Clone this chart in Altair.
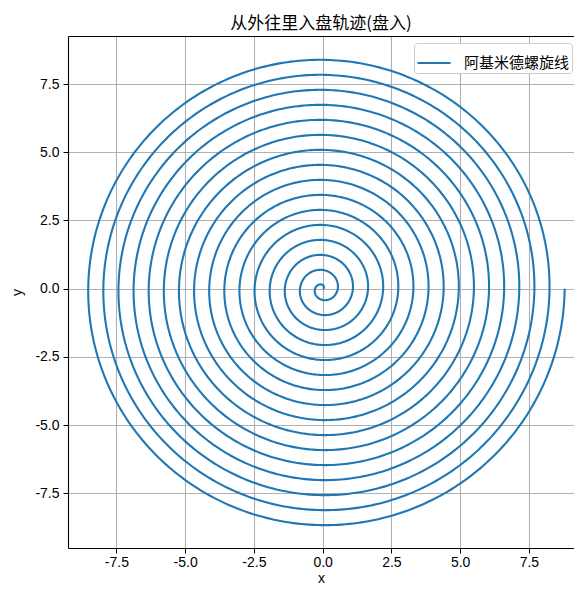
import numpy as np
import pandas as pd
import altair as alt

# ---- values ----
series_name = ["阿基米德螺旋线"]
outer_radius = [8.8]        # radius where the curve enters (on the +x axis)
turn_count = [16]           # full turns until the centre
x_ticks = [-7.5, -5.0, -2.5, 0.0, 2.5, 5.0, 7.5]
y_ticks = [-7.5, -5.0, -2.5, 0.0, 2.5, 5.0, 7.5]
x_domain = [-9.26, 9.14]
y_domain = [-9.5, 9.26]
title_text = ["从外往里入盘轨迹(盘入)"]

# Archimedean spiral, travelled clockwise from the outside to the centre
theta = np.linspace(0.0, 2 * np.pi * turn_count[0], 6000)
r = outer_radius[0] * (1.0 - theta / theta[-1])
df = pd.DataFrame({
    "i": np.arange(theta.size),
    "x": r * np.cos(theta),
    "y": -r * np.sin(theta),
    "series": series_name[0],
})

LAT = "Liberation Sans"
CJK = "Noto Sans CJK SC"
LBL = "datum.value < 0 ? '-' + format(abs(datum.value), '.1f') : format(datum.value, '.1f')"

xs = alt.Scale(domain=x_domain, nice=False, zero=False)
ys = alt.Scale(domain=y_domain, nice=False, zero=False)

line = alt.Chart(df).mark_line(strokeWidth=2.1).encode(
    x=alt.X("x:Q", scale=xs, axis=alt.Axis(values=x_ticks, labelExpr=LBL, title="x",
                                           titleBaseline="alphabetic", titleY=34,
                                           labelPadding=2)),
    y=alt.Y("y:Q", scale=ys, axis=alt.Axis(values=y_ticks, labelExpr=LBL, title="y",
                                           titlePadding=10)),
    color=alt.Color("series:N",
                    scale=alt.Scale(domain=series_name, range=["#1f77b4"]),
                    legend=alt.Legend(title=None, orient="none", legendX=346, legendY=7,
                                      symbolType="stroke", symbolSize=1089,
                                      symbolStrokeWidth=2.1, labelFont=CJK,
                                      labelFontSize=15, labelColor="#000",
                                      labelOffset=12, padding=2, fillColor="white",
                                      strokeColor="#cccccc", cornerRadius=3)),
    order="i:Q",
)

top_spine = alt.Chart(df).mark_point(opacity=0).encode(
    x=alt.X("x:Q", scale=xs, axis=alt.Axis(orient="top", labels=False, ticks=False,
                                           grid=False, title=None, domain=True)),
    y=alt.Y("y:Q", scale=ys, axis=None),
)

chart = alt.layer(line, top_spine).resolve_axis(
    x="independent", y="independent"
).properties(
    width=506,
    height=512,
    title=alt.TitleParams(text=title_text[0], font=CJK, fontSize=17, fontWeight="normal",
                          color="#000", anchor="middle", offset=3),
    autosize=alt.AutoSizeParams(type="none"),
    padding={"left": 60, "top": 28, "right": 0, "bottom": 38},
).configure_view(stroke=None).configure_axis(
    labelFont=LAT, labelFontSize=14, labelColor="#000",
    titleFont=LAT, titleFontSize=14, titleColor="#000", titleFontWeight="normal",
    domainColor="#000", domainWidth=1.1, tickColor="#000", tickSize=5, tickWidth=1,
    labelPadding=4, grid=True, gridColor="#b0b0b0", gridWidth=1.1,
)

chart.save("out.html", embed_options={"renderer": "svg", "actions": False})
